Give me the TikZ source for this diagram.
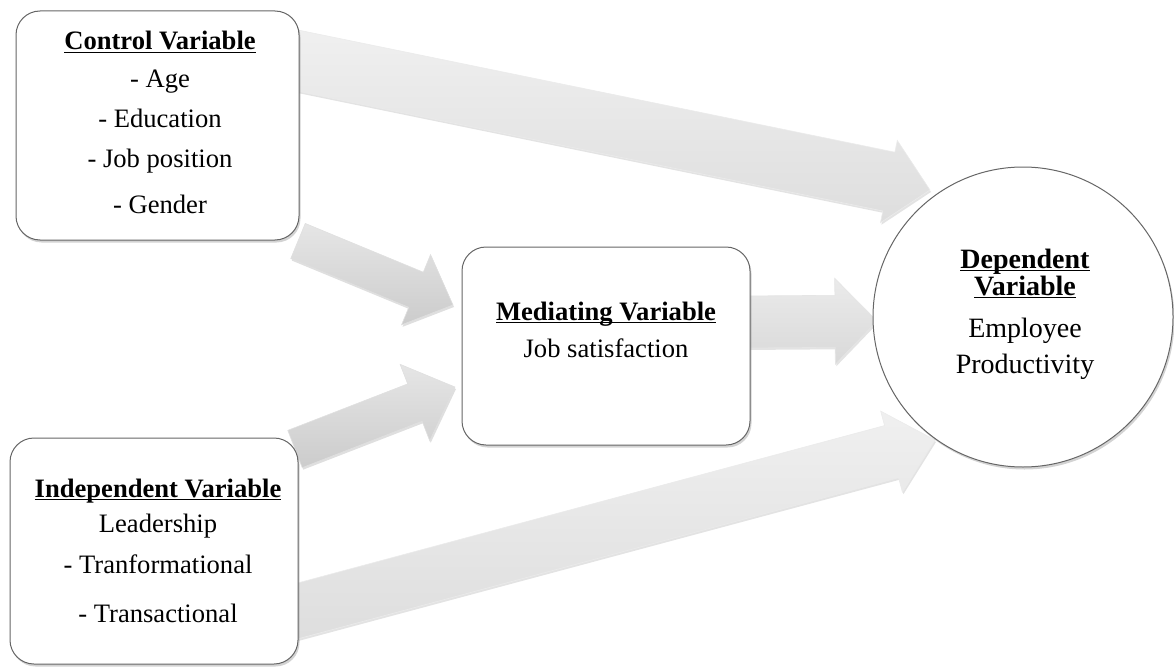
\documentclass[tikz,border=0pt]{standalone}
\usepackage{fontspec}
\setmainfont{Liberation Serif}
\usetikzlibrary{calc,shadows}
\newcommand\ulx[1]{\setbox0=\hbox{#1}\rlap{\rule[-3.2pt]{\wd0}{1.6pt}}\box0}
% style, tail, tip, half shaft, half head, head length
\newcommand\blockarr[6]{%
  \coordinate (#2#3j) at ($(#3)!#6!(#2)$);
  \path[#1] ($(#2)!#4!90:(#3)$) -- ($(#2#3j)!#4!90:(#3)$) -- ($(#2#3j)!#5!90:(#3)$) -- (#3)
    -- ($(#2#3j)!#5!-90:(#3)$) -- ($(#2#3j)!#4!-90:(#3)$) -- ($(#2)!#4!-90:(#3)$) -- cycle;
}
\tikzset{
  boxst/.style={draw=black!60, line width=1pt, fill=white, rounded corners=24pt,
    drop shadow={opacity=0.35, shadow xshift=1.5pt, shadow yshift=-2.5pt}},
  circst/.style={circle, draw=black!60, line width=1pt, fill=white, inner sep=0pt,
    drop shadow={opacity=0.35, shadow xshift=1.5pt, shadow yshift=-2.5pt}},
  txt/.style={font=\fontsize{26.6}{30}\selectfont, inner sep=0pt, anchor=base},
  txtbig/.style={font=\fontsize{28}{30}\selectfont, inner sep=0pt, anchor=base},
  arrlight/.style={top color=black!6, bottom color=black!13, draw=white!92!black, line width=0.6pt,
    drop shadow={opacity=0.22, shadow xshift=1pt, shadow yshift=-2pt}},
  arrmid/.style={top color=black!8, bottom color=black!15, draw=white!90!black, line width=0.6pt,
    drop shadow={opacity=0.22, shadow xshift=1pt, shadow yshift=-2pt}},
  arrdark/.style={top color=black!10, bottom color=black!20, draw=white!88!black, line width=0.6pt,
    drop shadow={opacity=0.25, shadow xshift=1pt, shadow yshift=-2pt}},
}
\begin{document}
\begin{tikzpicture}[x=1pt, y=-1pt]
\useasboundingbox (0,0) rectangle (1174,666);
% arrow end points
\coordinate (aT) at (290,59);
\coordinate (aH) at (930,190);
\coordinate (bT) at (298,241);
\coordinate (bH) at (453,305);
\coordinate (cT) at (295,449);
\coordinate (cH) at (455,387);
\coordinate (dT) at (740,322);
\coordinate (dH) at (877,321);
\coordinate (eT) at (290,613);
\coordinate (eH) at (935,440);
% arrows (behind the boxes)
\blockarr{arrlight}{aT}{aH}{30pt}{42pt}{42pt}
\blockarr{arrlight}{eT}{eH}{27pt}{42pt}{45pt}
\blockarr{arrdark}{bT}{bH}{19pt}{38pt}{40pt}
\blockarr{arrdark}{cT}{cH}{20pt}{41pt}{43pt}
\blockarr{arrmid}{dT}{dH}{26pt}{43pt}{42pt}
% boxes
\node[boxst, minimum width=283pt, minimum height=229pt] (ctrl) at (157.5,125.5) {};
\node[boxst, minimum width=288pt, minimum height=226pt] (indep) at (154,551) {};
\node[boxst, minimum width=288pt, minimum height=198pt] (med) at (606,346) {};
\node[circst, minimum size=300pt] (dep) at (1023,317) {};
% texts
\node[txt] (c1) at (160,50) {\bfseries\ulx{Control Variable}};
\node[txt] (c2) at (160,88) {- Age};
\node[txt] (c3) at (160,128) {- Education};
\node[txt] (c4) at (160,167) {- Job position};
\node[txt] (c5) at (160,213) {- Gender};
\node[txt] (i1) at (158,497) {\bfseries\ulx{Independent Variable}};
\node[txt] (i2) at (158,532) {Leadership};
\node[txt] (i3) at (158,573) {- Tranformational};
\node[txt] (i4) at (158,622) {- Transactional};
\node[txt] (m1) at (606,320) {\bfseries\ulx{Mediating Variable}};
\node[txt] (m2) at (606,357) {Job satisfaction};
\node[txtbig] (d1) at (1025,268) {\bfseries\ulx{Dependent}};
\node[txtbig] (d2) at (1025,295) {\bfseries\ulx{Variable}};
\node[txtbig] (d3) at (1025,337) {Employee};
\node[txtbig] (d4) at (1025,373) {Productivity};
\end{tikzpicture}
\end{document}
